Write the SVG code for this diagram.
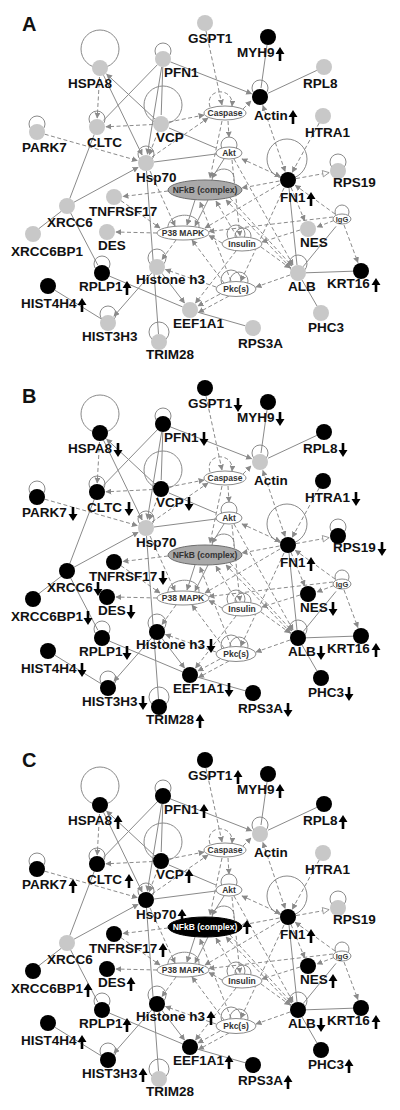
<svg xmlns="http://www.w3.org/2000/svg" xmlns:xlink="http://www.w3.org/1999/xlink" width="400" height="1110" viewBox="0 0 400 1110">
<style>
.s{stroke:#8a8a8a;stroke-width:1;fill:none}
.d{stroke:#8a8a8a;stroke-width:1;fill:none;stroke-dasharray:4 2.5}
.lp{stroke:#8a8a8a;stroke-width:1;fill:none}
.g{fill:#c8c8c8}
.k{fill:#000}
.l{font-family:"Liberation Sans",Arial,sans-serif;font-weight:bold;font-size:13.5px;fill:#111}
.pl{font-family:"Liberation Sans",Arial,sans-serif;font-weight:bold;font-size:20px;fill:#111}
.el{fill:#fff;stroke:#8a8a8a;stroke-width:1}
.et{font-family:"Liberation Sans",Arial,sans-serif;font-weight:bold;font-size:8.5px;fill:#333;text-anchor:middle}
.nfg{fill:#a9a9a9;stroke:#6e6e6e;stroke-width:1}
.nfk{fill:#000;stroke:#000}
.wt{fill:#fff}
.ar{fill:#000}
</style>
<defs>
<marker id="ah" viewBox="0 0 10 10" refX="9" refY="5" markerWidth="6" markerHeight="6" markerUnits="userSpaceOnUse" orient="auto-start-reverse"><path d="M0,0 L10,5 L0,10 Z" fill="#8a8a8a"/></marker>
<marker id="ao" viewBox="0 0 10 10" refX="9" refY="5" markerWidth="8" markerHeight="8" markerUnits="userSpaceOnUse" orient="auto"><path d="M1,1 L9,5 L1,9 Z" fill="#fff" stroke="#8a8a8a"/></marker>
<path id="up" class="ar" d="M0,-14 L4.5,-7 L1.3,-7 L1.3,0 L-1.3,0 L-1.3,-7 L-4.5,-7 Z"/>
<path id="dn" class="ar" d="M0,0 L4.5,-7 L1.3,-7 L1.3,-14 L-1.3,-14 L-1.3,-7 L-4.5,-7 Z"/>
<g id="net">
<path class="s" marker-end="url(#ah)" d="M155,119 L106.6,74.1"/>
<path class="s" marker-end="url(#ah)" d="M103.5,75.2 L142.1,154.9"/>
<path class="s" d="M157.4,64.7 L103.3,120.5"/>
<path class="s" d="M162.8,67 L161.2,115"/>
<path class="s" marker-end="url(#ah)" d="M161.7,66.9 L147.4,154.1"/>
<path class="s" marker-end="url(#ah)" d="M170.4,61.9 L251.6,93.7"/>
<path class="s" d="M267,45 L261,88"/>
<path class="s" d="M316.8,70.4 L268.1,93.2"/>
<path class="s" d="M169,128 L216,148"/>
<path class="s" d="M154,162 L216,154"/>
<path class="s" marker-end="url(#ah)" d="M74,202.2 L138.1,167.3"/>
<path class="s" d="M94.2,134.5 L69.8,198.5"/>
<path class="s" d="M61,211.5 L39,228.5"/>
<path class="s" d="M70.7,213.1 L97.8,265"/>
<path class="s" d="M109.4,276.1 L182.6,306.9"/>
<path class="s" d="M54.8,290.2 L101.2,318.8"/>
<path class="s" marker-end="url(#ah)" d="M151.7,273 L113.9,316.2"/>
<path class="s" d="M146.5,171 L158.5,334"/>
<path class="s" marker-end="url(#ah)" d="M161.9,273.3 L184.5,302.9"/>
<path class="s" d="M289,188 L297,265"/>
<path class="s" d="M306,272.8 L353,271.2"/>
<path class="s" d="M303,266.8 L336,226.4"/>
<path class="s" d="M302,280 L317,306"/>
<path class="s" d="M197.7,312.2 L245.3,325.8"/>
<path class="s" marker-end="url(#ah)" d="M224,159 L212,178"/>
<path class="s" d="M212,181 C212,165 236,165 234,181"/>
<path class="s" marker-end="url(#ah)" d="M195,200 L187,225"/>
<path class="s" marker-end="url(#ah)" d="M208,200 L195,226"/>
<path class="s" d="M168,229 C166,212 200,210 199,227"/>
<path class="d" marker-end="url(#ah)" d="M99.5,77 L97.2,118"/>
<path class="d" marker-end="url(#ah)" d="M153,124.5 L106,126.8"/>
<path class="d" marker-end="url(#ah)" d="M44.7,134.2 L137.3,160.5"/>
<path class="d" marker-end="url(#ah)" d="M158.1,131.5 L149.2,154.6"/>
<path class="d" marker-end="url(#ah)" d="M169,122 L204,115"/>
<path class="d" marker-end="url(#ah)" d="M152,157 L208,118"/>
<path class="d" marker-end="url(#ah)" d="M206,31 L222,105"/>
<path class="d" marker-end="url(#ah)" d="M210,107 C204,88 234,86 232,106"/>
<path class="d" marker-end="url(#ah)" d="M243,109 L251,101"/>
<path class="d" marker-end="url(#ah)" d="M222,121 L210,178"/>
<path class="d" marker-end="url(#ah)" d="M228,121 L229,137"/>
<path class="d" marker-start="url(#ah)" marker-end="url(#ah)" d="M262.9,105.5 L285.1,171.5"/>
<path class="d" marker-end="url(#ah)" d="M319.2,123 L292.3,172.1"/>
<path class="d" marker-end="url(#ao)" d="M296,178.6 L329.1,172.6"/>
<path class="d" marker-start="url(#ah)" marker-end="url(#ah)" d="M280.3,176.5 L242,158.9"/>
<path class="d" marker-end="url(#ah)" d="M279.5,181 L242,188"/>
<path class="d" marker-end="url(#ah)" d="M291,187.4 L304.6,220.7"/>
<path class="d" marker-end="url(#ah)" d="M335,214 L295.3,185.3"/>
<path class="d" marker-end="url(#ah)" d="M344,225 L357.9,262.5"/>
<path class="d" marker-end="url(#ah)" d="M334,220.5 L317,227"/>
<path class="d" marker-end="url(#ah)" d="M168,191 L123,196.5"/>
<path class="d" marker-end="url(#ah)" d="M121,200.7 L160,228"/>
<path class="d" marker-end="url(#ah)" d="M157,233 L116,232"/>
<path class="d" marker-end="url(#ah)" d="M150,171 L175,226"/>
<path class="d" marker-end="url(#ah)" d="M176,240 L162,259.5"/>
<path class="d" marker-end="url(#ah)" d="M222,243 L209,235.5"/>
<path class="d" marker-end="url(#ah)" d="M224,283 L192,240"/>
<path class="d" marker-end="url(#ah)" d="M216,287 L165.5,269.5"/>
<path class="d" marker-end="url(#ah)" d="M220,294 L198,306"/>
<path class="d" marker-end="url(#ah)" d="M229,296 L198.5,312.5"/>
<path class="d" marker-end="url(#ah)" d="M236,251 L195.5,303"/>
<path class="d" marker-end="url(#ah)" d="M290,275 L256,287"/>
<path class="d" marker-end="url(#ah)" d="M261,247 L290,268"/>
<path class="d" marker-end="url(#ah)" d="M230,198 L292,266"/>
<path class="d" marker-end="url(#ah)" d="M234,159 L293,265"/>
<path class="d" marker-end="url(#ah)" d="M333,217 L209,231.5"/>
<path class="d" marker-end="url(#ah)" d="M300,230 L262,242"/>
<path class="d" marker-end="url(#ah)" d="M231,281 L200,202"/>
<path class="d" marker-end="url(#ah)" d="M237,237 L216,201"/>
<path class="d" marker-end="url(#ah)" d="M291,268 L226,200"/>
<path class="d" marker-end="url(#ah)" d="M284,188 L241,281"/>
<path class="d" marker-end="url(#ah)" d="M232,160 L240,236"/>
<path class="d" marker-end="url(#ah)" d="M280,184 L205,228"/>
</g>
</defs>
<rect width="400" height="1110" fill="#fff"/>

<!-- ===================== PANEL A ===================== -->
<g id="panelA">
<text class="pl" x="22" y="31">A</text>
<g id="a-connectors"><use href="#net"/></g>
<g id="a-caspase"><ellipse class="el" cx="225" cy="113" rx="21" ry="7"/><text class="et" x="225" y="116">Caspase</text></g>
<g id="a-akt"><circle class="lp" cx="229" cy="145" r="8"/><ellipse class="el" cx="229" cy="153" rx="13" ry="6"/><text class="et" x="229" y="156">Akt</text></g>
<g id="a-nfkb"><ellipse class="nfg" cx="205" cy="190" rx="37" ry="10"/><text class="et" x="205" y="193">NFkB (complex)</text></g>
<g id="a-p38"><ellipse class="el" cx="183" cy="233" rx="26" ry="7"/><text class="et" x="183" y="236">P38 MAPK</text></g>
<g id="a-insulin"><circle class="lp" cx="236" cy="234" r="9"/><circle class="lp" cx="243" cy="236" r="8"/><ellipse class="el" cx="242" cy="244" rx="20" ry="7"/><text class="et" x="242" y="247">Insulin</text></g>
<g id="a-pkc"><circle class="lp" cx="231" cy="280" r="10"/><circle class="lp" cx="239" cy="281" r="9"/><ellipse class="el" cx="236" cy="289" rx="20" ry="7.5"/><text class="et" x="236" y="292">Pkc(s)</text></g>
<g id="a-igg"><circle class="lp" cx="342" cy="212" r="7"/><ellipse class="el" cx="342" cy="219" rx="9" ry="5"/><text class="et" x="342" y="222" style="font-size:7.5px">IgG</text></g>
<g id="a-hspa8"><circle class="lp" cx="100" cy="49" r="19"/><circle class="g" cx="100" cy="68" r="8"/><text class="l" x="68" y="88">HSPA8</text></g>
<g id="a-pfn1"><circle class="lp" cx="163" cy="51" r="8"/><circle class="g" cx="163" cy="59" r="8"/><text class="l" x="164" y="77">PFN1</text></g>
<g id="a-gspt1"><circle class="g" cx="205" cy="23" r="8"/><text class="l" x="188" y="43">GSPT1</text></g>
<g id="a-myh9"><circle class="k" cx="268" cy="37" r="8"/><text class="l" x="237" y="57">MYH9</text><use href="#up" x="280" y="61"/></g>
<g id="a-rpl8"><circle class="g" cx="324" cy="67" r="8"/><text class="l" x="303" y="88">RPL8</text></g>
<g id="a-actin"><circle class="lp" cx="260" cy="88" r="8"/><circle class="k" cx="260" cy="97" r="8"/><text class="l" x="254" y="120">Actin</text><use href="#up" x="293" y="124"/></g>
<g id="a-htra1"><circle class="g" cx="323" cy="116" r="8"/><text class="l" x="305" y="137">HTRA1</text></g>
<g id="a-rps19"><circle class="lp" cx="338" cy="162" r="8"/><circle class="g" cx="338" cy="171" r="8"/><text class="l" x="333" y="187">RPS19</text></g>
<g id="a-park7"><circle class="lp" cx="37" cy="124" r="8"/><circle class="g" cx="37" cy="132" r="8"/><text class="l" x="22" y="152">PARK7</text></g>
<g id="a-cltc"><circle class="lp" cx="97" cy="119" r="8"/><circle class="g" cx="97" cy="127" r="8"/><text class="l" x="87" y="147">CLTC</text></g>
<g id="a-vcp"><circle class="lp" cx="163" cy="105" r="19"/><circle class="g" cx="161" cy="124" r="8"/><text class="l" x="156" y="142">VCP</text></g>
<g id="a-hsp70"><circle class="lp" cx="146" cy="154" r="8"/><circle class="g" cx="146" cy="163" r="8"/><text class="l" x="136" y="182">Hsp70</text></g>
<g id="a-fn1"><circle class="lp" cx="287" cy="159" r="20"/><circle class="k" cx="288" cy="180" r="8"/><text class="l" x="280" y="202">FN1</text><use href="#up" x="311" y="206"/></g>
<g id="a-tnfrsf17"><circle class="g" cx="114" cy="197" r="8"/><text class="l" x="89" y="216">TNFRSF17</text></g>
<g id="a-xrcc6"><circle class="g" cx="67" cy="206" r="8"/><text class="l" x="47" y="227">XRCC6</text></g>
<g id="a-xrcc6bp1"><circle class="g" cx="33" cy="234" r="8"/><text class="l" x="11" y="256">XRCC6BP1</text></g>
<g id="a-des"><circle class="g" cx="107" cy="232" r="8"/><text class="l" x="98" y="250">DES</text></g>
<g id="a-nes"><circle class="g" cx="308" cy="229" r="8"/><text class="l" x="300" y="247">NES</text></g>
<g id="a-histoneh3"><circle class="lp" cx="157" cy="258" r="9"/><circle class="g" cx="157" cy="267" r="8"/><text class="l" x="136" y="284">Histone h3</text></g>
<g id="a-rplp1"><circle class="lp" cx="102" cy="264" r="8"/><circle class="k" cx="102" cy="273" r="8"/><text class="l" x="79" y="291">RPLP1</text><use href="#up" x="127" y="295"/></g>
<g id="a-hist4h4"><circle class="k" cx="48" cy="286" r="8"/><text class="l" x="21" y="308">HIST4H4</text><use href="#up" x="82" y="312"/></g>
<g id="a-alb"><circle class="lp" cx="298" cy="264" r="9"/><circle class="g" cx="298" cy="273" r="8"/><text class="l" x="288" y="291">ALB</text></g>
<g id="a-krt16"><circle class="k" cx="361" cy="271" r="8"/><text class="l" x="327" y="288">KRT16</text><use href="#up" x="376" y="292"/></g>
<g id="a-eef1a1"><circle class="g" cx="190" cy="310" r="8"/><text class="l" x="173" y="328">EEF1A1</text></g>
<g id="a-phc3"><circle class="g" cx="321" cy="313" r="8"/><text class="l" x="308" y="332">PHC3</text></g>
<g id="a-hist3h3"><circle class="lp" cx="108" cy="314" r="8"/><circle class="g" cx="108" cy="323" r="8"/><text class="l" x="82" y="341">HIST3H3</text></g>
<g id="a-rps3a"><circle class="g" cx="253" cy="328" r="8"/><text class="l" x="238" y="348">RPS3A</text></g>
<g id="a-trim28"><circle class="lp" cx="159" cy="332" r="10"/><circle class="g" cx="159" cy="342" r="8"/><text class="l" x="146" y="359">TRIM28</text></g>
</g>

<!-- ===================== PANEL B ===================== -->
<g id="panelB" transform="translate(0,365)">
<text class="pl" x="22" y="38">B</text>
<g id="b-connectors"><use href="#net"/></g>
<g id="b-caspase"><ellipse class="el" cx="225" cy="113" rx="21" ry="7"/><text class="et" x="225" y="116">Caspase</text></g>
<g id="b-akt"><circle class="lp" cx="229" cy="145" r="8"/><ellipse class="el" cx="229" cy="153" rx="13" ry="6"/><text class="et" x="229" y="156">Akt</text></g>
<g id="b-nfkb"><ellipse class="nfg" cx="205" cy="190" rx="37" ry="10"/><text class="et" x="205" y="193">NFkB (complex)</text></g>
<g id="b-p38"><ellipse class="el" cx="183" cy="233" rx="26" ry="7"/><text class="et" x="183" y="236">P38 MAPK</text></g>
<g id="b-insulin"><circle class="lp" cx="236" cy="234" r="9"/><circle class="lp" cx="243" cy="236" r="8"/><ellipse class="el" cx="242" cy="244" rx="20" ry="7"/><text class="et" x="242" y="247">Insulin</text></g>
<g id="b-pkc"><circle class="lp" cx="231" cy="280" r="10"/><circle class="lp" cx="239" cy="281" r="9"/><ellipse class="el" cx="236" cy="289" rx="20" ry="7.5"/><text class="et" x="236" y="292">Pkc(s)</text></g>
<g id="b-igg"><circle class="lp" cx="342" cy="212" r="7"/><ellipse class="el" cx="342" cy="219" rx="9" ry="5"/><text class="et" x="342" y="222" style="font-size:7.5px">IgG</text></g>
<g id="b-hspa8"><circle class="lp" cx="100" cy="49" r="19"/><circle class="k" cx="100" cy="68" r="8"/><text class="l" x="68" y="88">HSPA8</text><use href="#dn" x="118" y="92"/></g>
<g id="b-pfn1"><circle class="lp" cx="163" cy="51" r="8"/><circle class="k" cx="163" cy="59" r="8"/><text class="l" x="164" y="77">PFN1</text><use href="#dn" x="204" y="81"/></g>
<g id="b-gspt1"><circle class="k" cx="205" cy="23" r="8"/><text class="l" x="188" y="43">GSPT1</text><use href="#dn" x="238" y="47"/></g>
<g id="b-myh9"><circle class="k" cx="268" cy="37" r="8"/><text class="l" x="237" y="57">MYH9</text><use href="#dn" x="280" y="61"/></g>
<g id="b-rpl8"><circle class="k" cx="324" cy="67" r="8"/><text class="l" x="303" y="88">RPL8</text><use href="#dn" x="343" y="92"/></g>
<g id="b-actin"><circle class="lp" cx="260" cy="88" r="8"/><circle class="g" cx="260" cy="97" r="8"/><text class="l" x="254" y="120">Actin</text></g>
<g id="b-htra1"><circle class="k" cx="323" cy="116" r="8"/><text class="l" x="305" y="137">HTRA1</text><use href="#dn" x="356" y="141"/></g>
<g id="b-rps19"><circle class="lp" cx="338" cy="162" r="8"/><circle class="k" cx="338" cy="171" r="8"/><text class="l" x="333" y="187">RPS19</text><use href="#dn" x="382" y="191"/></g>
<g id="b-park7"><circle class="lp" cx="37" cy="124" r="8"/><circle class="k" cx="37" cy="132" r="8"/><text class="l" x="22" y="152">PARK7</text><use href="#dn" x="73" y="156"/></g>
<g id="b-cltc"><circle class="lp" cx="97" cy="119" r="8"/><circle class="k" cx="97" cy="127" r="8"/><text class="l" x="87" y="147">CLTC</text><use href="#dn" x="129" y="151"/></g>
<g id="b-vcp"><circle class="lp" cx="163" cy="105" r="19"/><circle class="k" cx="161" cy="124" r="8"/><text class="l" x="156" y="142">VCP</text><use href="#dn" x="189" y="146"/></g>
<g id="b-hsp70"><circle class="lp" cx="146" cy="154" r="8"/><circle class="g" cx="146" cy="163" r="8"/><text class="l" x="136" y="182">Hsp70</text></g>
<g id="b-fn1"><circle class="lp" cx="287" cy="159" r="20"/><circle class="k" cx="288" cy="180" r="8"/><text class="l" x="280" y="202">FN1</text><use href="#up" x="311" y="206"/></g>
<g id="b-tnfrsf17"><circle class="k" cx="114" cy="197" r="8"/><text class="l" x="89" y="216">TNFRSF17</text><use href="#dn" x="163" y="220"/></g>
<g id="b-xrcc6"><circle class="k" cx="67" cy="206" r="8"/><text class="l" x="47" y="227">XRCC6</text><use href="#dn" x="98" y="231"/></g>
<g id="b-xrcc6bp1"><circle class="k" cx="33" cy="234" r="8"/><text class="l" x="11" y="256">XRCC6BP1</text><use href="#dn" x="88" y="260"/></g>
<g id="b-des"><circle class="k" cx="107" cy="232" r="8"/><text class="l" x="98" y="250">DES</text><use href="#dn" x="131" y="254"/></g>
<g id="b-nes"><circle class="k" cx="308" cy="229" r="8"/><text class="l" x="300" y="247">NES</text><use href="#dn" x="333" y="251"/></g>
<g id="b-histoneh3"><circle class="lp" cx="157" cy="258" r="9"/><circle class="k" cx="157" cy="267" r="8"/><text class="l" x="136" y="284">Histone h3</text><use href="#dn" x="211" y="288"/></g>
<g id="b-rplp1"><circle class="lp" cx="102" cy="264" r="8"/><circle class="k" cx="102" cy="273" r="8"/><text class="l" x="79" y="291">RPLP1</text><use href="#dn" x="127" y="295"/></g>
<g id="b-hist4h4"><circle class="k" cx="48" cy="286" r="8"/><text class="l" x="21" y="308">HIST4H4</text><use href="#dn" x="82" y="312"/></g>
<g id="b-alb"><circle class="lp" cx="298" cy="264" r="9"/><circle class="k" cx="298" cy="273" r="8"/><text class="l" x="288" y="291">ALB</text><use href="#dn" x="321" y="295"/></g>
<g id="b-krt16"><circle class="k" cx="361" cy="271" r="8"/><text class="l" x="327" y="288">KRT16</text><use href="#up" x="376" y="292"/></g>
<g id="b-eef1a1"><circle class="k" cx="190" cy="310" r="8"/><text class="l" x="173" y="328">EEF1A1</text><use href="#dn" x="229" y="332"/></g>
<g id="b-phc3"><circle class="k" cx="321" cy="313" r="8"/><text class="l" x="308" y="332">PHC3</text><use href="#dn" x="349" y="336"/></g>
<g id="b-hist3h3"><circle class="lp" cx="108" cy="314" r="8"/><circle class="k" cx="108" cy="323" r="8"/><text class="l" x="82" y="341">HIST3H3</text><use href="#dn" x="143" y="345"/></g>
<g id="b-rps3a"><circle class="k" cx="253" cy="328" r="8"/><text class="l" x="238" y="348">RPS3A</text><use href="#dn" x="288" y="352"/></g>
<g id="b-trim28"><circle class="lp" cx="159" cy="332" r="10"/><circle class="k" cx="159" cy="342" r="8"/><text class="l" x="146" y="359">TRIM28</text><use href="#up" x="200" y="363"/></g>
</g>

<!-- ===================== PANEL C ===================== -->
<g id="panelC" transform="translate(0,737)">
<text class="pl" x="22" y="30">C</text>
<g id="c-connectors"><use href="#net"/></g>
<g id="c-caspase"><ellipse class="el" cx="225" cy="113" rx="21" ry="7"/><text class="et" x="225" y="116">Caspase</text></g>
<g id="c-akt"><circle class="lp" cx="229" cy="145" r="8"/><ellipse class="el" cx="229" cy="153" rx="13" ry="6"/><text class="et" x="229" y="156">Akt</text></g>
<g id="c-nfkb"><ellipse class="nfk" cx="205" cy="190" rx="37" ry="10"/><text class="et wt" x="205" y="193">NFkB (complex)</text><use href="#up" x="247" y="197"/></g>
<g id="c-p38"><ellipse class="el" cx="183" cy="233" rx="26" ry="7"/><text class="et" x="183" y="236">P38 MAPK</text></g>
<g id="c-insulin"><circle class="lp" cx="236" cy="234" r="9"/><circle class="lp" cx="243" cy="236" r="8"/><ellipse class="el" cx="242" cy="244" rx="20" ry="7"/><text class="et" x="242" y="247">Insulin</text></g>
<g id="c-pkc"><circle class="lp" cx="231" cy="280" r="10"/><circle class="lp" cx="239" cy="281" r="9"/><ellipse class="el" cx="236" cy="289" rx="20" ry="7.5"/><text class="et" x="236" y="292">Pkc(s)</text></g>
<g id="c-igg"><circle class="lp" cx="342" cy="212" r="7"/><ellipse class="el" cx="342" cy="219" rx="9" ry="5"/><text class="et" x="342" y="222" style="font-size:7.5px">IgG</text></g>
<g id="c-hspa8"><circle class="lp" cx="100" cy="49" r="19"/><circle class="k" cx="100" cy="68" r="8"/><text class="l" x="68" y="88">HSPA8</text><use href="#up" x="118" y="92"/></g>
<g id="c-pfn1"><circle class="lp" cx="163" cy="51" r="8"/><circle class="k" cx="163" cy="59" r="8"/><text class="l" x="164" y="77">PFN1</text><use href="#up" x="204" y="81"/></g>
<g id="c-gspt1"><circle class="k" cx="205" cy="23" r="8"/><text class="l" x="188" y="43">GSPT1</text><use href="#up" x="238" y="47"/></g>
<g id="c-myh9"><circle class="k" cx="268" cy="37" r="8"/><text class="l" x="237" y="57">MYH9</text><use href="#up" x="280" y="61"/></g>
<g id="c-rpl8"><circle class="k" cx="324" cy="67" r="8"/><text class="l" x="303" y="88">RPL8</text><use href="#up" x="343" y="92"/></g>
<g id="c-actin"><circle class="lp" cx="260" cy="88" r="8"/><circle class="g" cx="260" cy="97" r="8"/><text class="l" x="254" y="120">Actin</text></g>
<g id="c-htra1"><circle class="g" cx="323" cy="116" r="8"/><text class="l" x="305" y="137">HTRA1</text></g>
<g id="c-rps19"><circle class="lp" cx="338" cy="162" r="8"/><circle class="g" cx="338" cy="171" r="8"/><text class="l" x="333" y="187">RPS19</text></g>
<g id="c-park7"><circle class="lp" cx="37" cy="124" r="8"/><circle class="k" cx="37" cy="132" r="8"/><text class="l" x="22" y="152">PARK7</text><use href="#up" x="73" y="156"/></g>
<g id="c-cltc"><circle class="lp" cx="97" cy="119" r="8"/><circle class="k" cx="97" cy="127" r="8"/><text class="l" x="87" y="147">CLTC</text><use href="#up" x="129" y="151"/></g>
<g id="c-vcp"><circle class="lp" cx="163" cy="105" r="19"/><circle class="k" cx="161" cy="124" r="8"/><text class="l" x="156" y="142">VCP</text><use href="#up" x="189" y="146"/></g>
<g id="c-hsp70"><circle class="lp" cx="146" cy="154" r="8"/><circle class="k" cx="146" cy="163" r="8"/><text class="l" x="136" y="182">Hsp70</text><use href="#up" x="182" y="186"/></g>
<g id="c-fn1"><circle class="lp" cx="287" cy="159" r="20"/><circle class="k" cx="288" cy="180" r="8"/><text class="l" x="280" y="202">FN1</text><use href="#up" x="311" y="206"/></g>
<g id="c-tnfrsf17"><circle class="k" cx="114" cy="197" r="8"/><text class="l" x="89" y="216">TNFRSF17</text><use href="#up" x="163" y="220"/></g>
<g id="c-xrcc6"><circle class="g" cx="67" cy="206" r="8"/><text class="l" x="47" y="227">XRCC6</text></g>
<g id="c-xrcc6bp1"><circle class="k" cx="33" cy="234" r="8"/><text class="l" x="11" y="256">XRCC6BP1</text><use href="#up" x="88" y="260"/></g>
<g id="c-des"><circle class="k" cx="107" cy="232" r="8"/><text class="l" x="98" y="250">DES</text><use href="#up" x="131" y="254"/></g>
<g id="c-nes"><circle class="k" cx="308" cy="229" r="8"/><text class="l" x="300" y="247">NES</text><use href="#up" x="333" y="251"/></g>
<g id="c-histoneh3"><circle class="lp" cx="157" cy="258" r="9"/><circle class="k" cx="157" cy="267" r="8"/><text class="l" x="136" y="284">Histone h3</text><use href="#up" x="211" y="288"/></g>
<g id="c-rplp1"><circle class="lp" cx="102" cy="264" r="8"/><circle class="k" cx="102" cy="273" r="8"/><text class="l" x="79" y="291">RPLP1</text><use href="#up" x="127" y="295"/></g>
<g id="c-hist4h4"><circle class="k" cx="48" cy="286" r="8"/><text class="l" x="21" y="308">HIST4H4</text><use href="#up" x="82" y="312"/></g>
<g id="c-alb"><circle class="lp" cx="298" cy="264" r="9"/><circle class="k" cx="298" cy="273" r="8"/><text class="l" x="288" y="291">ALB</text><use href="#dn" x="321" y="295"/></g>
<g id="c-krt16"><circle class="k" cx="361" cy="271" r="8"/><text class="l" x="327" y="288">KRT16</text><use href="#up" x="376" y="292"/></g>
<g id="c-eef1a1"><circle class="k" cx="190" cy="310" r="8"/><text class="l" x="173" y="328">EEF1A1</text><use href="#up" x="229" y="332"/></g>
<g id="c-phc3"><circle class="k" cx="321" cy="313" r="8"/><text class="l" x="308" y="332">PHC3</text><use href="#up" x="349" y="336"/></g>
<g id="c-hist3h3"><circle class="lp" cx="108" cy="314" r="8"/><circle class="k" cx="108" cy="323" r="8"/><text class="l" x="82" y="341">HIST3H3</text><use href="#up" x="143" y="345"/></g>
<g id="c-rps3a"><circle class="k" cx="253" cy="328" r="8"/><text class="l" x="238" y="348">RPS3A</text><use href="#up" x="288" y="352"/></g>
<g id="c-trim28"><circle class="lp" cx="159" cy="332" r="10"/><circle class="g" cx="159" cy="342" r="8"/><text class="l" x="146" y="359">TRIM28</text></g>
</g>
</svg>
